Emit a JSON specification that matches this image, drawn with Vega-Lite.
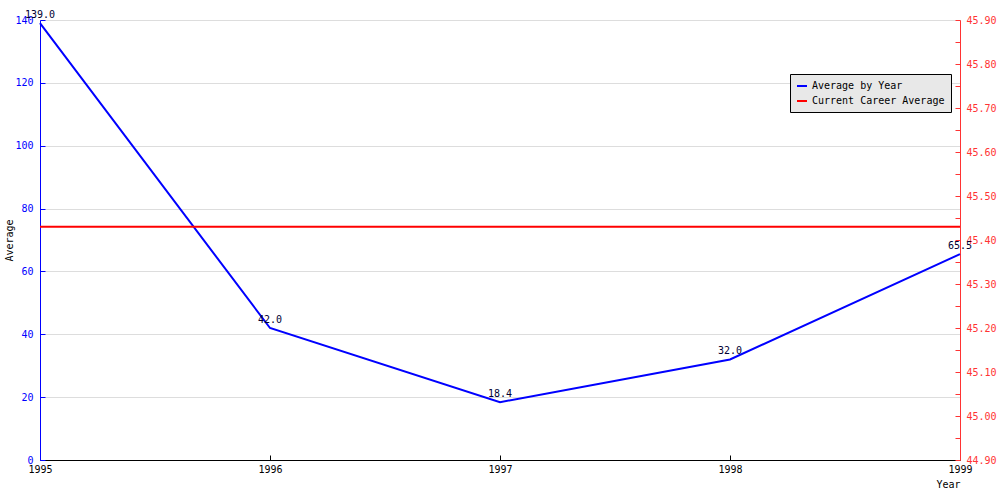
{
  "$schema": "https://vega.github.io/schema/vega-lite/v6.json",
  "width": 920,
  "height": 440,
  "autosize": {"type": "none"},
  "padding": {"left": 40, "top": 20, "right": 40, "bottom": 40},
  "background": "white",
  "config": {
    "font": "DejaVu Sans Mono",
    "view": {"stroke": null},
    "axis": {
      "labelFont": "DejaVu Sans Mono",
      "labelFontSize": 10,
      "titleFont": "DejaVu Sans Mono",
      "titleFontSize": 10,
      "titleFontWeight": "normal",
      "titleColor": "black",
      "tickSize": -5
    }
  },
  "datasets": {
    "avg": [
      {"Year": 1995, "Average": 139.0, "series": "Average by Year"},
      {"Year": 1996, "Average": 42.0, "series": "Average by Year"},
      {"Year": 1997, "Average": 18.4, "series": "Average by Year"},
      {"Year": 1998, "Average": 32.0, "series": "Average by Year"},
      {"Year": 1999, "Average": 65.5, "series": "Average by Year"}
    ],
    "career": [
      {"Career": 45.43, "series": "Current Career Average"}
    ]
  },
  "layer": [
    {
      "data": {"name": "avg"},
      "layer": [
        {
          "mark": {"type": "line", "strokeWidth": 2, "clip": false},
          "encoding": {
            "x": {
              "field": "Year", "type": "quantitative",
              "scale": {"domain": [1995, 1999], "nice": false, "zero": false},
              "axis": {
                "values": [1995, 1996, 1997, 1998, 1999],
                "format": "d",
                "title": "Year",
                "titleAnchor": "end",
                "titleAlign": "right",
                "titleX": 920,
                "titleY": 19,
                "domainColor": "black",
                "tickColor": "black",
                "labelColor": "black",
                "labelPadding": 9,
                "grid": false,
                "labelFlush": false
              }
            },
            "y": {
              "field": "Average", "type": "quantitative",
              "scale": {"domain": [0, 140], "nice": false},
              "axis": {
                "values": [0, 10, 20, 30, 40, 50, 60, 70, 80, 90, 100, 110, 120, 130, 140],
                "labelExpr": "datum.value % 20 == 0 ? datum.label : ''",
                "labelPadding": 12,
                "title": "Average",
                "titleX": -26,
                "domainColor": "blue",
                "tickColor": "blue",
                "labelColor": "blue",
                "grid": true,
                "gridColor": "#dddddd",
                "gridOpacity": {"condition": {"test": "datum.value % 20 == 0 && datum.value > 0", "value": 1}, "value": 0}
              }
            },
            "color": {
              "field": "series", "type": "nominal",
              "scale": {"domain": ["Average by Year", "Current Career Average"], "range": ["#0000ff", "#ff0000"]},
              "legend": {
                "title": null,
                "orient": "none",
                "legendX": 750,
                "legendY": 54,
                "fillColor": "#e8e8e8",
                "strokeColor": "black",
                "padding": 6,
                "symbolType": "stroke",
                "symbolSize": 100,
                "symbolStrokeWidth": 2,
                "labelFont": "DejaVu Sans Mono",
                "labelFontSize": 10,
                "labelColor": "black",
                "labelOffset": 4,
                "rowPadding": 4
              }
            }
          }
        },
        {
          "mark": {"type": "text", "dy": -8, "fontSize": 10, "font": "DejaVu Sans Mono", "color": "#000033"},
          "encoding": {
            "x": {"field": "Year", "type": "quantitative"},
            "y": {"field": "Average", "type": "quantitative"},
            "text": {"field": "Average", "type": "quantitative", "format": ".1f"}
          }
        }
      ]
    },
    {
      "data": {"name": "career"},
      "mark": {"type": "rule", "strokeWidth": 2},
      "encoding": {
        "y": {
          "field": "Career", "type": "quantitative",
          "scale": {"domain": [44.9, 45.9], "nice": false, "zero": false},
          "axis": {
            "orient": "right",
            "values": [44.9, 44.95, 45.0, 45.05, 45.1, 45.15, 45.2, 45.25, 45.3, 45.35, 45.4, 45.45, 45.5, 45.55, 45.6, 45.65, 45.7, 45.75, 45.8, 45.85, 45.9],
            "labelExpr": "round(datum.value * 100) % 10 == 0 ? format(datum.value, '.2f') : ''",
            "labelPadding": 11,
            "title": null,
            "domainColor": "#ff3333",
            "tickColor": "#ff3333",
            "labelColor": "#ff3333",
            "grid": false
          }
        },
        "color": {"field": "series", "type": "nominal"}
      }
    }
  ],
  "resolve": {"scale": {"y": "independent"}}
}
